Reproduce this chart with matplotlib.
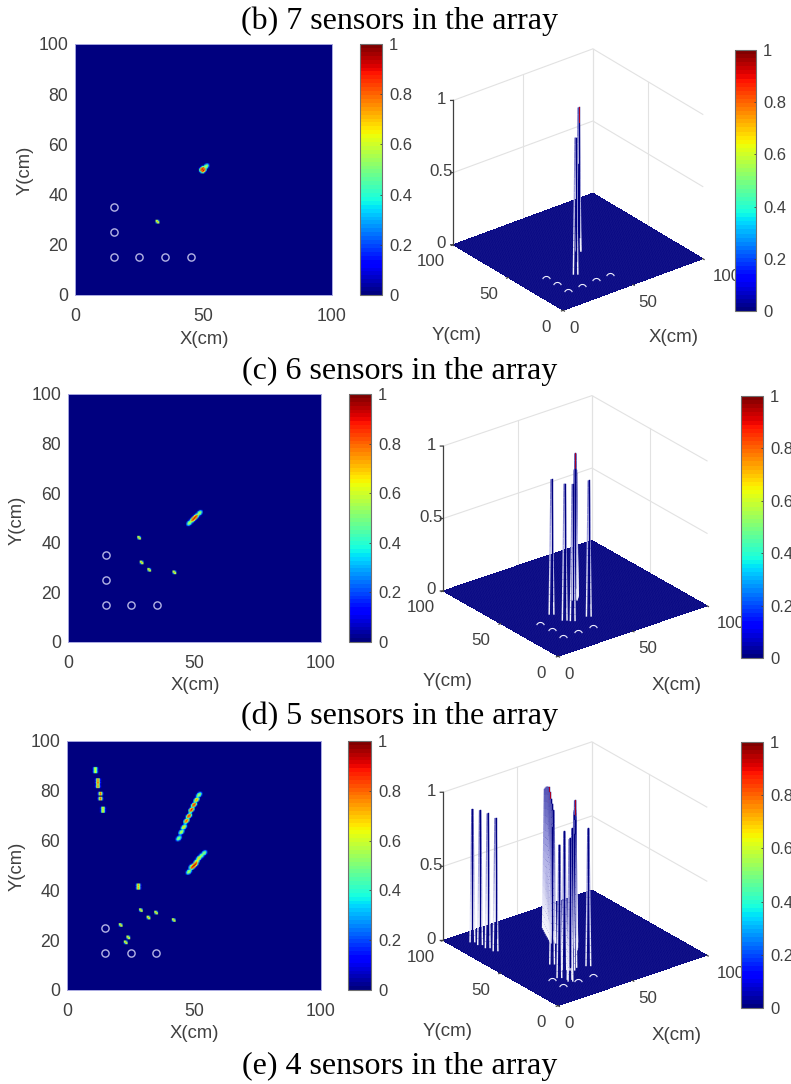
import numpy as np
import matplotlib
matplotlib.use("Agg")
import matplotlib.pyplot as plt
from matplotlib.colors import LinearSegmentedColormap, Normalize
from matplotlib.cm import ScalarMappable
from matplotlib.path import Path
from mpl_toolkits.mplot3d import proj3d
from mpl_toolkits.mplot3d.art3d import Line3DCollection

FIG_W, FIG_H = 791, 1084
plt.rcParams['font.family'] = ['Liberation Sans', 'DejaVu Sans']
TXT = '#404040'

titles = ['(b) 7 sensors in the array', '(c) 6 sensors in the array',
          '(d) 5 sensors in the array', '(e) 4 sensors in the array']
title_y = [21, 371, 716, 1066]

# sensor positions
sensors_b_x = [15, 25, 35, 45, 15, 15]
sensors_b_y = [15, 15, 15, 15, 25, 35]
sensors_c_x = [15, 25, 35, 15, 15]
sensors_c_y = [15, 15, 15, 25, 35]
sensors_d_x = [15, 25, 35, 15]
sensors_d_y = [15, 15, 15, 25]

# isolated spots on the 2D maps (x, y, level)
spot_b_x = [31.9]
spot_b_y = [29.2]
spot_b_v = [0.72]
spot_c_x = [28.0, 29.1, 32.1, 42.2]
spot_c_y = [42.0, 32.0, 28.9, 28.0]
spot_c_v = [0.72, 0.72, 0.72, 0.72]
spot_d_x = [29.0, 32.0, 34.9, 42.0, 21.0, 24.0, 23.0]
spot_d_y = [32.0, 29.0, 31.0, 28.0, 26.0, 21.0, 19.0]
spot_d_v = [0.72, 0.72, 0.72, 0.72, 0.72, 0.72, 0.72]

# ridges on the 2D maps
ridge_b_x = [49.7, 50.2, 51.0]
ridge_b_y = [49.9, 49.7, 51.0]
ridge_b_v = [0.95, 0.95, 0.6]
ridge_c_x = [48.2, 49.1, 49.7, 50.2, 50.7, 51.1, 52.0]
ridge_c_y = [48.0, 49.0, 49.5, 49.9, 50.4, 51.0, 52.0]
ridge_c_v = [0.6, 0.68, 0.93, 0.95, 0.93, 0.62, 0.6]
ridge_d_x = [44.1, 45.0, 46.0, 47.1, 48.0, 49.0, 50.0, 51.0, 52.0,
             48.0, 49.0, 49.7, 50.1, 50.5, 51.0, 52.0, 53.0, 54.0]
ridge_d_y = [61.1, 63.5, 65.7, 68.1, 70.2, 72.4, 74.5, 76.7, 78.7,
             47.6, 49.3, 49.6, 50.0, 50.3, 51.5, 53.0, 54.0, 55.0]
ridge_d_v = [0.55, 0.62, 0.7, 0.86, 0.92, 0.92, 0.92, 0.78, 0.6,
             0.6, 0.6, 0.95, 0.97, 0.95, 0.72, 0.7, 0.55, 0.55]

# upright stripes on the last 2D map
stripe_d_x = [10.9, 11.0, 12.0, 12.1, 12.2, 13.0, 13.1, 14.0, 14.1, 28.0, 28.1]
stripe_d_y = [89.0, 88.0, 84.7, 83.5, 82.2, 78.8, 77.0, 73.0, 72.0, 42.0, 41.0]
stripe_d_v = [0.65, 0.65, 0.8, 0.85, 0.8, 0.8, 0.8, 0.7, 0.7, 0.75, 0.75]

# spikes on the 3D surfaces (x, y, height)
spike_b_x = [50.2, 51.0, 31.9]
spike_b_y = [49.7, 50.9, 29.2]
spike_b_h = [1.0, 0.6, 0.95]
spike_c_x = [28.0, 29.1, 32.1, 42.2, 48.2, 49.1, 50.2, 51.1, 52.0]
spike_c_y = [42.0, 32.0, 28.9, 28.0, 48.0, 49.0, 49.9, 51.0, 52.0]
spike_c_h = [0.935, 0.945, 0.947, 0.94, 0.9, 0.9, 1.0, 0.88, 0.85]
spike_d_x = [10.9, 12.1, 13.0, 14.0, 44.1, 45.0, 46.0, 47.1, 48.0, 49.0, 50.0,
             51.0, 52.0, 48.0, 49.0, 50.1, 51.0, 52.0, 53.0, 54.0, 28.0,
             29.0, 32.0, 34.9, 42.0, 21.0, 24.0, 23.0]
spike_d_y = [88.6, 83.5, 78.0, 72.5, 61.1, 63.5, 65.7, 68.1, 70.2, 72.4, 74.5,
             76.7, 78.7, 47.6, 49.3, 50.0, 51.5, 53.0, 54.0, 55.0, 41.4,
             32.0, 29.0, 31.0, 28.0, 26.0, 21.0, 19.0]
spike_d_h = [0.9, 0.91, 0.91, 0.9, 0.9, 0.93, 0.95, 0.98, 1.0, 0.99, 0.98,
             0.96, 0.94, 0.88, 0.9, 0.995, 0.92, 0.9, 0.88, 0.85, 0.93,
             0.937, 0.96, 0.9, 0.93, 0.9, 0.95, 0.97]

map_ticks = [0, 20, 40, 60, 80, 100]
map_xticks = [0, 50, 100]
surf_ticks = [0, 50, 100]
z_ticks = [0, 0.5, 1]
z_tick_labels = ['0', '0.5', '1']
cbar_ticks = [0, 0.2, 0.4, 0.6, 0.8, 1]
cbar_tick_labels = ['0', '0.2', '0.4', '0.6', '0.8', '1']

# label offsets from the tick position, in pixels
x_tick_dx = [11, 15, 24]
y_tick_dx = [-17, -20, -22]

kernel_spot = np.array([[0.8, 0.7, 0.3], [0.7, 1.0, 0.7], [0.3, 0.7, 0.8]])
kernel_stripe = np.array([[0.1, 0.6, 0.9, 0.6, 0.1],
                          [0.2, 0.7, 1.0, 0.7, 0.2],
                          [0.1, 0.6, 0.9, 0.6, 0.1]])
kernel_ridge = np.array([[0.0, 0.1, 0.4, 0.5, 0.3],
                         [0.1, 0.6, 0.8, 0.9, 0.5],
                         [0.4, 0.8, 1.0, 0.8, 0.4],
                         [0.5, 0.9, 0.8, 0.6, 0.1],
                         [0.3, 0.5, 0.4, 0.1, 0.0]])

spike_cmap = LinearSegmentedColormap.from_list(
    'spike', ['#f4f4fc', '#e0e0f6', '#c0c0ec', '#9c9cdc', '#7c7ccc', '#5c5cbc'])
jet = plt.get_cmap('jet', 64)
norm = Normalize(0, 1)


def px_box(left, top, right, bottom):
    return [left / FIG_W, 1 - bottom / FIG_H, (right - left) / FIG_W, (bottom - top) / FIG_H]


def fig_text(x, y, s, **kw):
    fig.text(x / FIG_W, 1 - y / FIG_H, s, ha=kw.pop('ha', 'center'), va=kw.pop('va', 'center'), **kw)


def stamp(zz, xs, ys, vs, kernel):
    ry, rx = kernel.shape[0] // 2, kernel.shape[1] // 2
    for x, y, v in zip(xs, ys, vs):
        i, j = int(round(y * 2)), int(round(x * 2))
        # row 0 of the kernel is the upper row on screen, the field has origin lower
        zz[i - ry:i + ry + 1, j - rx:j + rx + 1] = np.maximum(zz[i - ry:i + ry + 1, j - rx:j + rx + 1], kernel[::-1] * v)
    return zz


def draw_map(box, field, sens_x, sens_y):
    ax = fig.add_axes(px_box(*box))
    ax.imshow(field, origin='lower', extent=[0, 100, 0, 100], cmap=jet, norm=norm,
              interpolation='bilinear', aspect='auto')
    ax.plot(sens_x, sens_y, 'o', mfc='none', mec='#b4b4e4', ms=5.2, mew=1.0)
    ax.set_xlim(0, 100)
    ax.set_ylim(0, 100)
    ax.set_xticks(map_xticks)
    ax.set_yticks(map_ticks)
    ax.tick_params(length=0, labelsize=12.7, labelcolor=TXT)
    ax.tick_params(axis='x', pad=9.5)
    ax.tick_params(axis='y', pad=5)
    for s in ax.spines.values():
        s.set_color('#a8a8e0')
        s.set_linewidth(0.7)


def draw_cbar(box):
    cax = fig.add_axes(px_box(*box), zorder=5)
    cb = fig.colorbar(ScalarMappable(norm=norm, cmap=jet), cax=cax)
    cb.set_ticks(cbar_ticks)
    cb.set_ticklabels(cbar_tick_labels)
    cb.ax.tick_params(direction='in', length=1.5, width=0.6, color='#404040',
                      labelsize=12, labelcolor=TXT, pad=5)
    cb.outline.set_edgecolor('#707070')
    cb.outline.set_linewidth(0.8)


def tick_label(ax, M, x, y, z, s, dx, dy):
    x2, y2, _ = proj3d.proj_transform(x, y, z, M)
    ax.annotate(s, (x2, y2), xytext=(dx * 0.72, dy * 0.72), textcoords='offset points',
                ha='center', va='center', fontsize=12.2, color=TXT, annotation_clip=False)


def draw_surface(left, top, size, elev, azim, ratio, sens_x, sens_y, sp_x, sp_y, sp_h):
    ax = fig.add_axes(px_box(left, top, left + size, top + size), projection='3d',
                      proj_type='ortho', computed_zorder=False)
    ax.view_init(elev=elev, azim=azim)
    ax.set_xlim(0, 100)
    ax.set_ylim(0, 100)
    ax.set_zlim(0, 1)
    ax.set_box_aspect((1, 1, ratio))
    ax.set_axis_off()

    # box and grid on the two back walls
    wall = dict(color='#e2e2e2', lw=0.8, zorder=0)
    for z in z_ticks[1:]:
        ax.plot([0, 100, 100], [100, 100, 0], [z, z, z], **wall)
    for t in surf_ticks[1:]:
        ax.plot([t, t], [100, 100], [0, 1], **wall)
        ax.plot([100, 100], [t, t], [0, 1], **wall)

    # floor, faces and the fine mesh separately or the edges wash it out
    grid = np.linspace(0, 100, 51)
    xx, yy = np.meshgrid(grid, grid)
    ax.plot_surface(xx, yy, np.zeros_like(xx), rstride=1, cstride=1, color=jet(0), shade=False,
                    edgecolor='none', linewidth=0, antialiased=False, zorder=1)
    fine = np.linspace(0, 100, 101)
    xf, yf = np.meshgrid(fine, fine)
    ax.plot_wireframe(xf, yf, np.zeros_like(xf), rstride=1, cstride=1, color=(1, 1, 1, 0.1),
                      linewidth=0.25, zorder=1)

    # axis lines
    dark = dict(color='#404040', lw=0.9, zorder=2)
    ax.plot([0, 0], [100, 100], [0, 1], **dark)
    M = ax.get_proj()
    for z, s in zip(z_ticks, z_tick_labels):
        tick_label(ax, M, 0, 100, z, s, -12, 1)
        ax.plot([0, -1.2], [100, 100.9], [z, z], **dark)
    for t, xdx, ydx in zip(surf_ticks, x_tick_dx, y_tick_dx):
        tick_label(ax, M, 0, t, 0, str(t), ydx, -17)
        tick_label(ax, M, t, 0, 0, str(t), xdx, -18)
        ax.plot([0, -1.2], [t, t], [0, 0], **dark)
        ax.plot([t, t], [0, -1.2], [0, 0], **dark)

    # sensor arcs, the lower half is hidden by the surface
    ax.plot(sens_x, sens_y, np.zeros(len(sens_x)), ls='none', marker=Path.arc(20, 160),
            mfc='none', mec='#f0f0ff', ms=5.8, mew=0.8, zorder=4)

    # spikes
    levels = np.linspace(0, 1, 21)
    order = np.argsort(-(np.array(sp_x) + np.array(sp_y)))
    for n in order:
        x, y, h = sp_x[n], sp_y[n], sp_h[n]
        segs, cols = [], []
        for side in (-1, 1):
            for a, b in zip(levels[:-1], levels[1:]):
                wa, wb = 1 - 0.8 * a, 1 - 0.8 * b
                segs.append([(x + side * wa, y - side * 0.76 * wa, a * h),
                             (x + side * wb, y - side * 0.76 * wb, b * h)])
                cols.append(spike_cmap(a))
        ax.add_collection3d(Line3DCollection(segs, colors=cols, linewidths=1.05, zorder=3))
        ax.plot([x, x], [y, y], [0.1 * h, h], color='#000080', lw=1.0, zorder=3)
        if h >= 0.98:
            ax.plot([x, x], [y, y], [0.9 * h, h], color='#b00020', lw=0.7, zorder=3)


fig = plt.figure(figsize=(FIG_W / 100, FIG_H / 100), dpi=100)

for t, y in zip(titles, title_y):
    fig_text(400, y, t, family=['Liberation Serif'], fontsize=23, color='black')

# (b) row
field_b = stamp(np.zeros((201, 201)), spot_b_x, spot_b_y, spot_b_v, kernel_spot)
field_b = stamp(field_b, ridge_b_x, ridge_b_y, ridge_b_v, kernel_ridge)
draw_map((75, 44, 332, 295), field_b, sensors_b_x, sensors_b_y)
draw_cbar((359.5, 44, 382, 295))
draw_surface(428.6, 38, 291, 28, -128.2, 0.92, sensors_b_x, sensors_b_y, spike_b_x, spike_b_y, spike_b_h)
draw_cbar((735, 50, 756, 311))
fig_text(204, 339, 'X(cm)', fontsize=13.3, color=TXT)
fig_text(25, 170, 'Y(cm)', fontsize=13.3, color=TXT, rotation=90)
fig_text(457, 335, 'Y(cm)', fontsize=13.5, color=TXT)
fig_text(674, 338, 'X(cm)', fontsize=13.5, color=TXT)

# (c) row
field_c = stamp(np.zeros((201, 201)), spot_c_x, spot_c_y, spot_c_v, kernel_spot)
field_c = stamp(field_c, ridge_c_x, ridge_c_y, ridge_c_v, kernel_ridge)
draw_map((68, 394, 321, 642), field_c, sensors_c_x, sensors_c_y)
draw_cbar((349, 394, 371, 642))
draw_surface(420, 379, 302, 26, -127.7, 0.857, sensors_c_x, sensors_c_y, spike_c_x, spike_c_y, spike_c_h)
draw_cbar((741, 396, 763, 658))
fig_text(195, 686, 'X(cm)', fontsize=13.3, color=TXT)
fig_text(17, 520, 'Y(cm)', fontsize=13.3, color=TXT, rotation=90)
fig_text(448, 682, 'Y(cm)', fontsize=13.5, color=TXT)
fig_text(677, 686, 'X(cm)', fontsize=13.5, color=TXT)

# (d) row
field_d = stamp(np.zeros((201, 201)), spot_d_x, spot_d_y, spot_d_v, kernel_spot)
field_d = stamp(field_d, ridge_d_x, ridge_d_y, ridge_d_v, kernel_ridge)
field_d = stamp(field_d, stripe_d_x, stripe_d_y, stripe_d_v, kernel_stripe)
draw_map((67, 741, 321, 990), field_d, sensors_d_x, sensors_d_y)
draw_cbar((348, 741, 371, 990))
draw_surface(419, 726, 303.7, 26, -127.7, 0.877, sensors_d_x, sensors_d_y, spike_d_x, spike_d_y, spike_d_h)
draw_cbar((741, 742, 763, 1008))
fig_text(194, 1034, 'X(cm)', fontsize=13.3, color=TXT)
fig_text(17, 866, 'Y(cm)', fontsize=13.3, color=TXT, rotation=90)
fig_text(448, 1032, 'Y(cm)', fontsize=13.5, color=TXT)
fig_text(677, 1036, 'X(cm)', fontsize=13.5, color=TXT)

fig.savefig('out.png', dpi=100)
